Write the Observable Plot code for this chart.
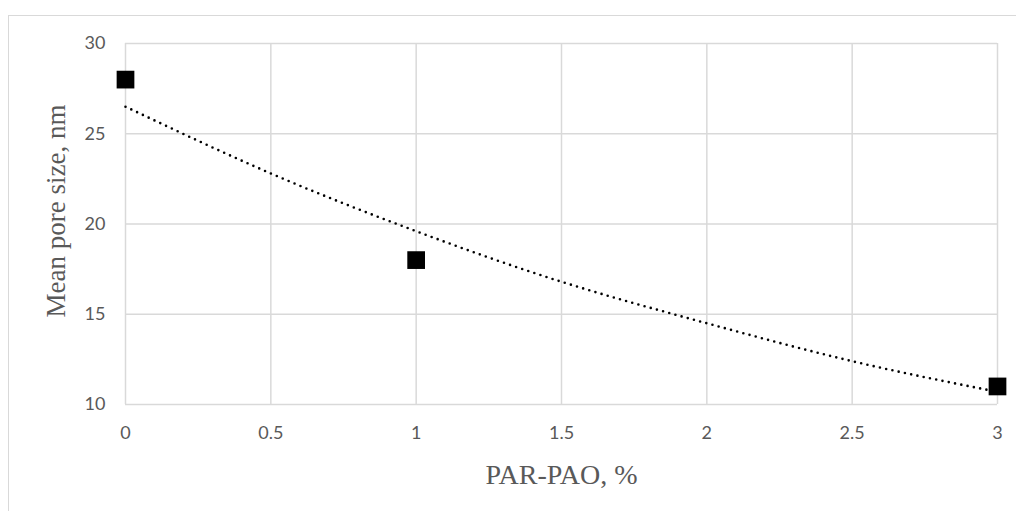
<!DOCTYPE html>
<html><head><meta charset="utf-8">
<script src="https://cdn.jsdelivr.net/npm/d3@7"></script>
<script src="https://cdn.jsdelivr.net/npm/@observablehq/plot@0.6"></script>
<style>
html,body{margin:0;padding:0;background:#fff;}
#wrap{position:relative;width:1016px;height:511px;overflow:hidden;}
#border{position:absolute;left:8px;top:15px;width:1100px;height:600px;border:1.5px solid #d9d9d9;box-sizing:border-box;}
#chart{position:absolute;left:0;top:0;}
</style>
</head><body>
<div id="wrap"><div id="border"></div><div id="chart"></div></div>
<script>
const parPao = [0, 1, 3];
const poreSize = [28, 18, 11];
const trendX = [0, 0.5, 1, 1.5, 2, 2.5, 3];
const trendY = [26.5, 22.8, 19.6, 16.8, 14.5, 12.4, 10.7];
const xTicks = [0, 0.5, 1, 1.5, 2, 2.5, 3];
const yTicks = [10, 15, 20, 25, 30];
const xTitle = "PAR-PAO, %";
const yTitle = "Mean pore size, nm";

const points = parPao.map((x, i) => ({x, y: poreSize[i]}));
const trend = trendX.map((x, i) => ({x, y: trendY[i]}));
const grid = "#d9d9d9";
const tickFont = "Lato, 'Open Sans', sans-serif";
const titleFont = "'Liberation Serif', 'Times New Roman', serif";

const chart = Plot.plot({
  width: 1016, height: 511,
  marginLeft: 125, marginRight: 19, marginTop: 43, marginBottom: 107,
  style: {background: "transparent", overflow: "visible"},
  x: {domain: [0, 3], ticks: xTicks},
  y: {domain: [10, 30], ticks: yTicks},
  marks: [
    Plot.gridX(xTicks, {stroke: grid, strokeOpacity: 1, strokeWidth: 1.5}),
    Plot.gridY(yTicks, {stroke: grid, strokeOpacity: 1, strokeWidth: 1.5}),
    Plot.axisX({ticks: xTicks, tickSize: 0, tickPadding: 22, label: null, fontSize: 18, fill: "#595959", fontFamily: tickFont, tickFormat: d => String(d)}),
    Plot.axisY({ticks: yTicks, tickSize: 0, tickPadding: 20, label: null, fontSize: 18, fill: "#595959", fontFamily: tickFont}),
    Plot.line(trend, {x: "x", y: "y", curve: "natural", stroke: "#000", strokeWidth: 2.6, strokeDasharray: "0,6.4", strokeLinecap: "round"}),
    Plot.dot(points, {x: "x", y: "y", symbol: "square", r: 10, fill: "#000", stroke: "none"}),
    Plot.text([xTitle], {frameAnchor: "bottom", dy: 79, textAnchor: "middle", text: d => d, fontSize: 28, fill: "#595959", fontFamily: titleFont}),
    Plot.text([yTitle], {frameAnchor: "left", dx: -69, dy: -13, rotate: -90, textAnchor: "middle", text: d => d, fontSize: 27, fill: "#595959", fontFamily: titleFont})
  ]
});
document.getElementById("chart").appendChild(chart);
</script>
</body></html>
